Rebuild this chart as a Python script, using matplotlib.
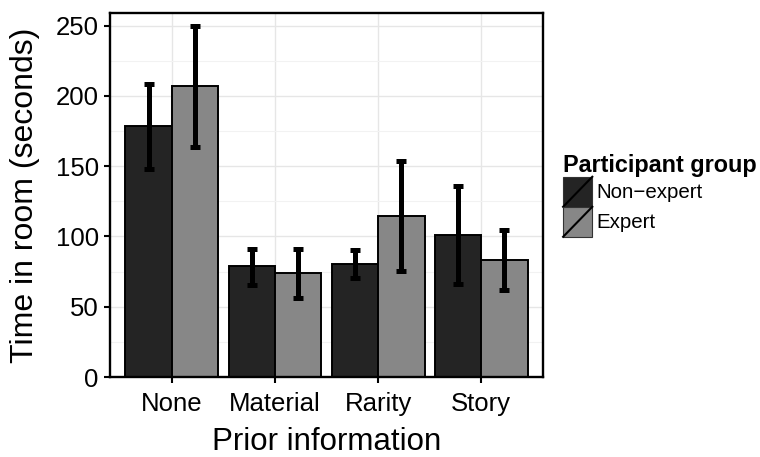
import numpy as np
import matplotlib
matplotlib.use("Agg")
import matplotlib.pyplot as plt
from matplotlib.patches import Rectangle
from matplotlib.lines import Line2D
from matplotlib.legend_handler import HandlerPatch

plt.rcParams['font.family'] = ['Liberation Sans', 'DejaVu Sans']

categories = ['None', 'Material', 'Rarity', 'Story']
groups = ['Non\u2212expert', 'Expert']
colors = ['#242424', '#878787']

means = {
    'Non\u2212expert': [178.3, 78.9, 80.5, 100.9],
    'Expert': [207.2, 74.1, 114.4, 83.1],
}
lower = {
    'Non\u2212expert': [148.0, 65.8, 70.6, 66.5],
    'Expert': [163.4, 56.4, 75.3, 61.6],
}
upper = {
    'Non\u2212expert': [208.6, 91.4, 90.2, 135.7],
    'Expert': [250.0, 90.9, 153.9, 104.9],
}


class HandlerSlash(HandlerPatch):
    def create_artists(self, legend, orig_handle, xdescent, ydescent,
                       width, height, fontsize, trans):
        r = Rectangle((-xdescent, -ydescent), width, height,
                      facecolor=orig_handle.get_facecolor(),
                      edgecolor='#333333', linewidth=0.8, transform=trans)
        ln = Line2D([-xdescent, -xdescent + width],
                    [-ydescent, -ydescent + height],
                    color='black', linewidth=1.5, transform=trans)
        return [r, ln]


fig = plt.figure(figsize=(7.6, 4.57), dpi=100)
ax = fig.add_axes([0.1447, 0.175, 0.57, 0.7966])

x = np.arange(1, len(categories) + 1)
w = 0.45
handles = []
for i, g in enumerate(groups):
    pos = x + (i - 0.5) * w
    m = np.array(means[g])
    err = [m - np.array(lower[g]), np.array(upper[g]) - m]
    ax.bar(pos, m, width=w, color=colors[i], edgecolor='black',
           linewidth=1.4, zorder=2)
    ax.errorbar(pos, m, yerr=err, fmt='none', ecolor='black',
                elinewidth=3.6, capsize=3.4, capthick=3.6, zorder=3)
    handles.append(Rectangle((0, 0), 1, 1, facecolor=colors[i]))

ax.set_xlim(0.4, 4.6)
ax.set_ylim(0, 259)
ax.set_xticks(x)
ax.set_xticklabels(categories)
ax.set_yticks(np.arange(0, 251, 50))
ax.set_yticks(np.arange(25, 251, 50), minor=True)
ax.grid(True, which='major', color='#e6e6e6', linewidth=1.0, zorder=0)
ax.grid(True, which='minor', axis='y', color='#f2f2f2', linewidth=0.8, zorder=0)
ax.set_axisbelow(True)

for s in ax.spines.values():
    s.set_linewidth(1.7)
    s.set_color('black')

ax.tick_params(axis='both', which='major', labelsize=18.5, length=4,
               width=1.5, color='black', labelcolor='black')
ax.tick_params(axis='x', which='major', pad=7)
ax.tick_params(axis='y', which='major', pad=4)
ax.tick_params(axis='y', which='minor', length=0)

ax.set_xlabel('Prior information', fontsize=22.5, labelpad=7.5)
ax.set_ylabel('Time in room (seconds)', fontsize=23, labelpad=11)

leg = fig.legend(handles, groups,
                 handler_map={Rectangle: HandlerSlash(xpad=0.0, ypad=0.0)},
                 title='Participant group', loc='upper left',
                 bbox_to_anchor=(0.722, 0.695), frameon=False,
                 fontsize=14.8, title_fontsize=16.8,
                 handlelength=1.42, handleheight=1.87, labelspacing=0.0,
                 handletextpad=0.2, borderpad=0.2)
leg.get_title().set_fontweight('bold')
leg._legend_box.align = 'left'

fig.savefig('out.png', dpi=100)
